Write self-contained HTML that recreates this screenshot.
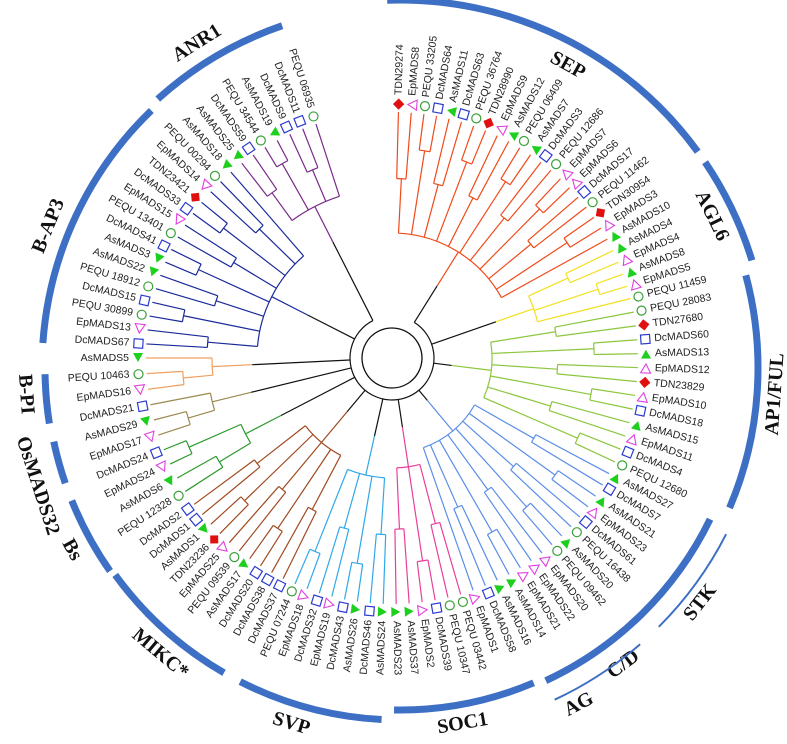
<!DOCTYPE html>
<html><head><meta charset="utf-8"><style>
html,body{margin:0;padding:0;background:#fff}
svg{display:block}
.lf{font-family:"Liberation Sans",sans-serif;font-size:10.5px;fill:#222}
.cl{font-family:"Liberation Serif",serif;font-size:20px;font-weight:bold;fill:#111}
</style></head><body>
<svg id="c" width="787" height="744" viewBox="0 0 787 744">
<g id="arcs"></g>
<g id="tree"></g>
</svg>
<script>
const cladeColors=["#f04a1a","#f2e020","#8cc63e","#5a8ee8","#e8409a","#30a8e8","#a04a20","#2a9a2a","#9a8a50","#f0a060","#1a2a9a","#7a2a8a"];
const cladeBase=[125,150,100,95,110,120,110,165,185,180,135,170];
const leafNames=[
["TDN29274","EpMADS8","PEQU 33205","DcMADS64","AsMADS11","DcMADS63","PEQU 36764","TDN28990","EpMADS9","AsMADS12","PEQU 06409","AsMADS7","DcMADS3","PEQU 12686","EpMADS7","EpMADS6","DcMADS17","PEQU 11462","TDN30954","EpMADS3","AsMADS10"],
["AsMADS4","EpMADS4","AsMADS8","EpMADS5","PEQU 11459"],
["PEQU 28083","TDN27680","DcMADS60","AsMADS13","EpMADS12","TDN23829","EpMADS10","DcMADS18","AsMADS15","EpMADS11","DcMADS4","PEQU 12680"],
["AsMADS27","DcMADS7","AsMADS21","EpMADS23","DcMADS61","PEQU 16438","AsMADS20","PEQU 09462","EpMADS20","EpMADS22","EpMADS21","AsMADS14","AsMADS16","DcMADS58","EpMADS1"],
["PEQU 03442","PEQU 10347","DcMADS39","EpMADS2","AsMADS37","AsMADS23"],
["AsMADS24","DcMADS46","AsMADS26","DcMADS43","EpMADS19","DcMADS32","EpMADS18","PEQU 07244"],
["DcMADS37","DcMADS38","DcMADS20","AsMADS17","PEQU 09539","EpMADS25","TDN23236","AsMADS1","DcMADS1","DcMADS2"],
["PEQU 12328","AsMADS6","EpMADS24","DcMADS24"],
["EpMADS17","AsMADS29","DcMADS21"],
["EpMADS16","PEQU 10463","AsMADS5"],
["DcMADS67","EpMADS13","PEQU 30899","DcMADS15","PEQU 18912","AsMADS22","AsMADS3","DcMADS41","PEQU 13401","EpMADS15","DcMADS33","TDN23421","EpMADS14","PEQU 00294","AsMADS18"],
["AsMADS25","DcMADS59","PEQU 34544","AsMADS19","DcMADS9","DcMADS11","PEQU 06935"]];
const arcLabels=["SEP","AGL6","AP1/FUL","","SOC1","SVP","MIKC*","Bs","OsMADS32","B-PI","B-AP3","ANR1"];
const arcStart=[-2,56,75,116,157,183,210,235,251,261,274,318];
const arcEnd=[54,73,113,155,181,207,234,248,258,269,316,341];
const arcR=[368,368,358,345,342,352,352,354,354,355,358,362];
const labelAng=[29,64,94,0,170,197,220,241,252,266,292,328];
const labelR=[345,346,377,0,362,373,374,376,382,376,378,382];
const thinLabels=["STK","C/D","AG"];
const thinStart=[117,0,139];
const thinEnd=[135,0,155];
const thinMid=[128,143,152];
// layout: leaf-index anchors mapped to angular positions (layout, not data)
const layoutIdx=[0,25,37,57,76,86,108];
const layoutAng=[1.5,76,115,176,233.5,270,342];

const NS="http://www.w3.org/2000/svg";
function mk(t,a,p){const e=document.createElementNS(NS,t);for(const k in a)e.setAttribute(k,a[k]);p.appendChild(e);return e;}
const TX=392,TY=358;
function tp(a,r){const t=a*Math.PI/180;return [TX+r*Math.sin(t),TY-r*Math.cos(t)];}
function tarc(a1,a2,r){const p=tp(a1,r),q=tp(a2,r);const lg=(a2-a1)>180?1:0;return `M${p[0]},${p[1]}A${r},${r} 0 ${lg} 1 ${q[0]},${q[1]}`;}
const AX=400,AY=368;
function ap(a,r){const t=a*Math.PI/180;return [AX+r*Math.sin(t),AY-r*Math.cos(t)];}
function aarc(a1,a2,r){const p=ap(a1,r),q=ap(a2,r);return `M${p[0]},${p[1]}A${r},${r} 0 0 1 ${q[0]},${q[1]}`;}
function leafAngle(i){for(let k=0;k<layoutIdx.length-1;k++){if(i<=layoutIdx[k+1]){const f=(i-layoutIdx[k])/(layoutIdx[k+1]-layoutIdx[k]);return layoutAng[k]+f*(layoutAng[k+1]-layoutAng[k]);}}return layoutAng[layoutAng.length-1];}

const arcs=document.getElementById('arcs');
arcLabels.forEach((lab,i)=>{
  const R=arcR[i];
  const pa=mk('path',{d:aarc(arcStart[i],arcEnd[i],R),fill:'none',stroke:'#3d6fc4','stroke-width':7},arcs);
  
  
  if(!lab)return;
  const m=labelAng[i];
  const p=ap(m,labelR[i]);
  let rot=m;if(m>90&&m<270)rot=m+180;
  const t=mk('text',{x:p[0],y:p[1],class:'cl','text-anchor':'middle','dominant-baseline':'middle',transform:`rotate(${rot} ${p[0]} ${p[1]})`},arcs);
  t.textContent=lab;
  
  
});
thinLabels.forEach((lab,i)=>{
  if(thinEnd[i]>0){const pa=mk('path',{d:aarc(thinStart[i],thinEnd[i],366),fill:'none',stroke:'#3d6fc4','stroke-width':2},arcs);
  
  }
  const p=ap(thinMid[i],i==1?372:382);
  const t=mk('text',{x:p[0],y:p[1],class:'cl','text-anchor':'middle','dominant-baseline':'middle',transform:`rotate(${thinMid[i]+180} ${p[0]} ${p[1]})`},arcs);
  t.textContent=lab;
  
  
});

const tree=document.getElementById('tree');
const RM=254,RL=246;
mk('path',{d:tarc(0,359.9,30),fill:'none',stroke:'#111','stroke-width':1.3},tree);
let idx=0;const stems=[];
leafNames.forEach((leaves,ci)=>{
  const col=cladeColors[ci],rc=cladeBase[ci];
  const pairMids=[];
  for(let j=0;j<leaves.length;j+=2){
    const n=Math.min(2,leaves.length-j);
    const r1=rc+(RL-rc)*(0.45+0.25*((j/2)%2));
    const as=[];
    for(let k=0;k<n;k++){
      const a=leafAngle(idx);as.push(a);
      const name=leaves[j+k];
      const p=tp(a,RL),q=tp(a,r1);
      mk('line',{x1:p[0],y1:p[1],x2:q[0],y2:q[1],stroke:col,'stroke-width':1.2},tree);
      const m=tp(a,RM);let mkr;
      if(name.startsWith('PEQU')){mkr=mk('circle',{cx:m[0],cy:m[1],r:4.5,fill:'none',stroke:'#3aa03a','stroke-width':1.2},tree);}
      else if(name.startsWith('Dc')){mkr=mk('rect',{x:m[0]-4.5,y:m[1]-4.5,width:9,height:9,fill:'none',stroke:'#2a3ad0','stroke-width':1.2,transform:`rotate(${a} ${m[0]} ${m[1]})`},tree);}
      else if(name.startsWith('As')){mkr=mk('path',{d:`M${m[0]-5},${m[1]-5}L${m[0]+5},${m[1]-5}L${m[0]},${m[1]+4}Z`,fill:'#1ed01e',transform:`rotate(${a+90} ${m[0]} ${m[1]})`},tree);}
      else if(name.startsWith('Ep')){mkr=mk('path',{d:`M${m[0]-5},${m[1]-5}L${m[0]+5},${m[1]-5}L${m[0]},${m[1]+4}Z`,fill:'none',stroke:'#e040e0','stroke-width':1.1,transform:`rotate(${a+90} ${m[0]} ${m[1]})`},tree);}
      else {mkr=mk('rect',{x:m[0]-4,y:m[1]-4,width:8,height:8,fill:'#e01010',transform:`rotate(${a+45} ${m[0]} ${m[1]})`},tree);}
      
      
      const tpos=tp(a,RM+9);
      const right=a<180;
      const rot=right?a-90:a+90;
      const t=mk('text',{x:tpos[0],y:tpos[1],class:'lf','text-anchor':right?'start':'end','dominant-baseline':'middle',transform:`rotate(${rot} ${tpos[0]} ${tpos[1]})`},tree);
      t.textContent=name;
      
      
      idx++;
    }
    if(n>1)mk('path',{d:tarc(as[0],as[1],r1),fill:'none',stroke:col,'stroke-width':1.2},tree);
    const mid=(as[0]+as[as.length-1])/2;
    const p=tp(mid,r1),q=tp(mid,rc);
    mk('line',{x1:p[0],y1:p[1],x2:q[0],y2:q[1],stroke:col,'stroke-width':1.2},tree);
    pairMids.push(mid);
  }
  if(pairMids.length>1)mk('path',{d:tarc(pairMids[0],pairMids[pairMids.length-1],rc),fill:'none',stroke:col,'stroke-width':1.2},tree);
  const cm=(pairMids[0]+pairMids[pairMids.length-1])/2;
  const rb=Math.max(rc-40,55);
  let p=tp(cm,rc),q=tp(cm,rb);
  mk('line',{x1:p[0],y1:p[1],x2:q[0],y2:q[1],stroke:col,'stroke-width':1.2},tree);
  p=tp(cm,rb);q=tp(cm,42);
  mk('line',{x1:p[0],y1:p[1],x2:q[0],y2:q[1],stroke:'#111','stroke-width':1.2},tree);
  stems.push(cm);
});
mk('path',{d:tarc(stems[0],stems[stems.length-1],42),fill:'none',stroke:'#111','stroke-width':1.2},tree);
</script>
</body></html>
